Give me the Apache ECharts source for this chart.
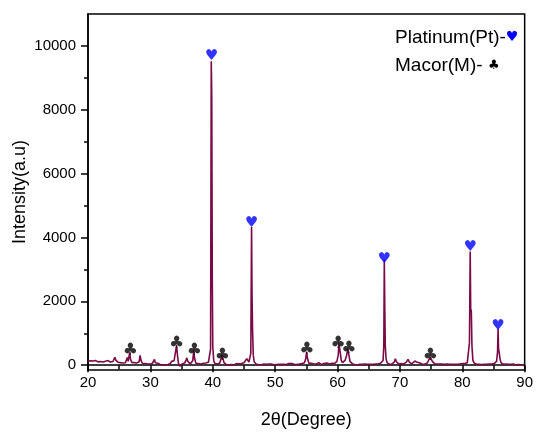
<!DOCTYPE html>
<html>
<head>
<meta charset="utf-8">
<script src="https://cdn.jsdelivr.net/npm/echarts@6/dist/echarts.min.js"></script>
<style>
html,body{margin:0;padding:0;background:#fff;}
#chart{width:536px;height:434px;}
</style>
</head>
<body>
<div id="chart"></div>
<script>
// XRD pattern: [2theta (deg), intensity (a.u.)]
const pattern = [
[20.0,120],[20.2,90],[20.4,140],[20.6,110],[20.8,130],[21.0,95],[21.2,150],[21.4,120],[21.6,105],[21.8,145],
[22.0,115],[22.2,135],[22.4,100],[22.6,150],[22.8,125],[23.0,110],[23.2,145],[23.4,120],[23.6,100],[23.8,135],
[24.0,115],[24.15,160],[24.3,250],[24.45,160],[24.6,110],[24.8,95],[25.0,120],[25.2,80],[25.4,100],[25.6,70],
[25.8,90],[26.0,75],[26.15,130],[26.3,240],[26.45,120],[26.58,280],[26.68,400],[26.8,200],[27.0,90],[27.2,60],
[27.4,80],[27.6,55],[27.8,70],[28.0,60],[28.2,110],[28.35,310],[28.5,150],[28.7,60],[28.9,40],[29.1,55],
[29.3,30],[29.5,45],[29.7,20],[29.9,40],[30.1,25],[30.3,50],[30.5,70],[30.65,180],[30.8,80],[31.0,40],
[31.2,60],[31.4,30],[31.6,20],[31.8,45],[32.0,15],[32.2,35],[32.4,10],[32.6,40],[32.8,25],[33.0,60],
[33.2,50],[33.4,120],[33.6,70],[33.8,140],[34.0,110],[34.2,620],[34.35,300],[34.5,60],[34.7,-30],[34.9,20],
[35.1,40],[35.3,30],[35.5,70],[35.7,150],[35.85,230],[36.0,120],[36.2,60],[36.4,40],[36.6,70],[36.8,150],
[36.95,460],[37.1,200],[37.3,60],[37.5,30],[37.7,50],[37.9,20],[38.1,40],[38.3,30],[38.5,60],[38.7,40],
[38.9,70],[39.1,60],[39.3,90],[39.5,130],[39.65,500],[39.76,9520],[39.84,8400],[39.92,2800],[40.0,600],[40.15,150],
[40.3,60],[40.5,30],[40.7,40],[40.9,30],[41.1,60],[41.3,110],[41.5,310],[41.65,200],[41.8,80],[42.0,40],
[42.2,20],[42.4,35],[42.6,10],[42.8,30],[43.0,20],[43.2,40],[43.4,15],[43.6,30],[43.8,50],[44.0,30],
[44.2,45],[44.4,25],[44.6,50],[44.8,60],[45.0,80],[45.2,110],[45.45,200],[45.6,140],[45.8,100],[46.0,150],
[46.1,380],[46.22,4330],[46.3,2150],[46.38,1100],[46.5,300],[46.65,100],[46.8,50],[47.0,30],[47.2,40],[47.4,20],
[47.6,35],[47.8,15],[48.0,30],[48.2,40],[48.4,20],[48.6,30],[48.8,10],[49.0,35],[49.2,20],[49.4,40],
[49.6,25],[49.8,15],[50.0,30],[50.2,20],[50.4,40],[50.6,25],[50.8,10],[51.0,30],[51.2,45],[51.4,25],
[51.6,35],[51.8,20],[52.0,40],[52.2,55],[52.5,90],[52.7,50],[52.9,30],[53.1,20],[53.3,40],[53.5,25],
[53.7,15],[53.9,35],[54.1,30],[54.3,50],[54.5,40],[54.7,80],[54.9,200],[55.05,410],[55.2,200],[55.4,60],
[55.6,30],[55.8,60],[56.0,90],[56.2,40],[56.4,20],[56.6,40],[56.8,60],[57.0,80],[57.2,40],[57.4,20],
[57.6,35],[57.8,50],[58.0,30],[58.3,70],[58.5,90],[58.7,40],[58.9,30],[59.1,60],[59.3,80],[59.5,50],
[59.7,70],[59.9,120],[60.1,300],[60.25,670],[60.4,450],[60.6,150],[60.8,80],[61.0,90],[61.2,150],[61.45,300],
[61.65,515],[61.8,350],[62.0,120],[62.2,60],[62.4,40],[62.6,30],[62.8,20],[63.0,35],[63.2,15],[63.4,30],
[63.6,25],[63.8,10],[64.0,30],[64.2,20],[64.4,35],[64.6,20],[64.8,30],[65.0,40],[65.2,30],[65.5,60],
[65.7,30],[65.9,20],[66.1,40],[66.3,25],[66.5,45],[66.7,40],[66.9,60],[67.1,80],[67.3,150],[67.42,600],
[67.5,3300],[67.58,1760],[67.66,600],[67.78,200],[67.95,80],[68.1,40],[68.3,30],[68.5,50],[68.7,40],[68.9,60],
[69.1,100],[69.27,200],[69.45,110],[69.6,60],[69.8,40],[70.0,30],[70.2,50],[70.4,30],[70.6,40],[70.8,60],
[71.0,90],[71.3,185],[71.5,100],[71.7,60],[71.9,40],[72.1,70],[72.4,130],[72.6,80],[72.8,90],[73.0,110],
[73.2,70],[73.4,50],[73.6,30],[73.8,40],[74.0,35],[74.2,50],[74.4,70],[74.6,110],[74.85,260],[75.0,220],
[75.2,120],[75.4,60],[75.6,40],[75.8,30],[76.0,40],[76.2,20],[76.4,35],[76.6,25],[76.8,40],[77.0,20],
[77.2,30],[77.4,15],[77.6,35],[77.8,20],[78.0,30],[78.2,40],[78.4,25],[78.6,40],[78.8,30],[79.0,45],
[79.2,30],[79.4,50],[79.6,40],[79.8,60],[80.0,50],[80.2,60],[80.4,50],[80.6,70],[80.8,80],[81.0,120],
[81.15,700],[81.27,3560],[81.35,1770],[81.45,1700],[81.55,600],[81.7,150],[81.9,70],[82.1,40],[82.3,30],[82.5,45],
[82.7,25],[82.9,40],[83.1,20],[83.3,35],[83.5,25],[83.7,40],[83.9,30],[84.1,20],[84.3,35],[84.5,25],
[84.7,40],[84.9,30],[85.1,50],[85.3,60],[85.5,120],[85.65,400],[85.74,1140],[85.82,500],[85.92,400],[86.05,200],
[86.2,80],[86.4,40],[86.6,30],[86.8,20],[87.0,35],[87.2,20],[87.4,30],[87.6,15],[87.8,30],[88.0,20],
[88.2,35],[88.4,25],[88.6,10],[88.8,30],[89.0,20],[89.2,35],[89.4,15],[89.6,30],[89.8,20],[90.0,25]
];
// Phase marker positions [2theta, intensity]
const platinumMarks = [[39.78,9800],[46.22,4590],[67.5,3455],[81.27,3815],[85.74,1360]];
const macorMarks = [[26.8,600],[34.2,845],[37.07,600],[41.55,445],[55.1,640],[60.1,845],[61.8,670],[74.9,465]];
// Ticks
const yMajorTicks = [0,2000,4000,6000,8000,10000];
const yMinorTicks = [1000,3000,5000,7000,9000];
const legendLines = ['Platinum(Pt)-', 'Macor(M)- '];

const FONT = '"Liberation Sans", Arial, sans-serif';
const chart = echarts.init(document.getElementById('chart'), null, {renderer:'canvas'});
const yBase = {
  type:'value', min:-150, max:11000, position:'left',
  splitLine:{show:false}
};
chart.setOption({
  animation:false,
  backgroundColor:'#fff',
  grid:{left:88, right:8, top:14, bottom:59, show:true, borderColor:'#000', borderWidth:1.5, backgroundColor:'transparent'},
  xAxis:{
    type:'value', min:20, max:90, interval:10,
    name:'2θ(Degree)', nameLocation:'middle', nameGap:41, nameMoveOverlap:false,
    nameTextStyle:{fontFamily:FONT, fontSize:18, color:'#000'},
    axisLine:{show:true, lineStyle:{color:'#000', width:1.5}},
    axisTick:{show:true, inside:false, length:7, lineStyle:{color:'#000', width:1.5}},
    minorTick:{show:true, splitNumber:2, length:4, lineStyle:{color:'#000', width:1.5}},
    axisLabel:{fontFamily:FONT, fontSize:15, color:'#000', margin:5, formatter:(v)=>String(v)},
    splitLine:{show:false}
  },
  yAxis:[
    Object.assign({}, yBase, {
      name:'Intensity(a.u)', nameLocation:'middle', nameGap:59, nameMoveOverlap:false,
      nameTextStyle:{fontFamily:FONT, fontSize:18, color:'#000'},
      axisLine:{show:true, onZero:false, lineStyle:{color:'#000', width:1.5}},
      axisTick:{show:true, inside:false, length:7, customValues:yMajorTicks, lineStyle:{color:'#000', width:1.5}},
      axisLabel:{fontFamily:FONT, fontSize:15, color:'#000', margin:12, customValues:yMajorTicks, formatter:(v)=>String(v)}
    }),
    Object.assign({}, yBase, {
      axisLine:{show:false},
      axisTick:{show:true, inside:false, length:4, customValues:yMinorTicks, lineStyle:{color:'#000', width:1.5}},
      axisLabel:{show:false}
    })
  ],
  series:[
    {
      type:'line', data:pattern, xAxisIndex:0, yAxisIndex:0,
      showSymbol:false, symbol:'none',
      lineStyle:{color:'#7a0a45', width:1.6}, z:2
    },
    {
      type:'scatter', data:platinumMarks, yAxisIndex:0, symbolSize:1,
      itemStyle:{color:'transparent'},
      label:{show:true, position:'inside', offset:[0,4], formatter:'♥', color:'#0000ff',
        fontFamily:'"DejaVu Sans", sans-serif', fontSize:15}, z:3
    },
    {
      type:'scatter', data:macorMarks, yAxisIndex:0, symbolSize:1,
      itemStyle:{color:'transparent'},
      label:{show:true, position:'inside', offset:[0,5], formatter:'♣', color:'#000',
        fontFamily:'"DejaVu Sans", sans-serif', fontSize:17}, z:3
    }
  ],
  graphic:[
    {type:'text', left:395, top:28, style:{
      text:'{a|' + legendLines[0] + '}{h|♥}',
      rich:{a:{fontFamily:FONT, fontSize:19, fill:'#000', color:'#000'},
            h:{fontFamily:'"DejaVu Sans", sans-serif', fontSize:14, fill:'#0000ff', color:'#0000ff'}}
    }},
    {type:'text', left:395, top:56, style:{
      text:'{a|' + legendLines[1] + '}{c|♣}',
      rich:{a:{fontFamily:FONT, fontSize:19, fill:'#000', color:'#000'},
            c:{fontFamily:'"DejaVu Sans", sans-serif', fontSize:13, fill:'#000', color:'#000'}}
    }}
  ]
});
</script>
</body>
</html>
